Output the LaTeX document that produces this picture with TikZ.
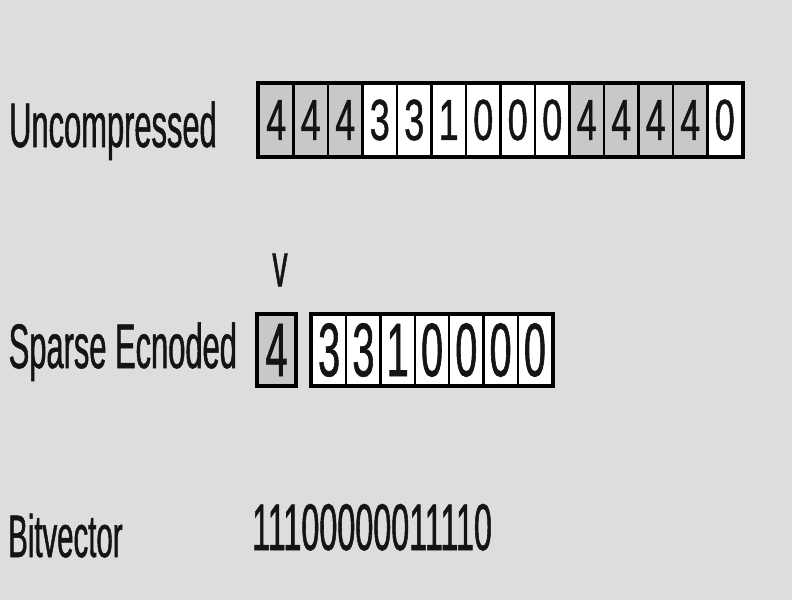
\documentclass[tikz,border=0pt]{standalone}
\usepackage{fontspec}
\setmainfont{Liberation Sans}
\newfontfamily\lblfont[FakeStretch=0.49,FakeBold=0.8]{Liberation Sans}
\newfontfamily\topfont[FakeStretch=0.62,FakeBold=0.8]{Liberation Sans}
\newfontfamily\midfont[FakeStretch=0.52,FakeBold=0.8]{Liberation Sans}
\definecolor{bg}{RGB}{221,221,221}
\definecolor{shade}{RGB}{200,200,200}
\definecolor{ink}{RGB}{20,20,20}
\begin{document}
\begin{tikzpicture}[x=1pt,y=-1pt,
  lbl/.style={anchor=base west, inner sep=0pt, text=ink, font=\lblfont\fontsize{63}{63}\selectfont},
  topcell/.style={draw=black, line width=2.2pt, minimum width=34.5pt, minimum height=72pt, inner sep=0pt, text=ink, font=\topfont\fontsize{58}{58}\selectfont},
  midcell/.style={draw=black, line width=2.2pt, minimum width=34.29pt, minimum height=70pt, inner sep=0pt, text=ink, font=\midfont\fontsize{76}{76}\selectfont},
  outer/.style={draw=black, line width=3pt}
]
\useasboundingbox (0,0) rectangle (792,600);
\fill[bg] (0,0) rectangle (792,600);

% labels
\node[lbl] (lu) at (9,147) {Uncompressed};
\node[lbl] (ls) at (8.5,368) {Sparse Ecnoded};
\node[lbl, font=\lblfont\fontsize{60}{60}\selectfont] (lb) at (8,557) {Bitvector};

% uncompressed row
\foreach \v/\f [count=\i from 0] in {4/shade,4/shade,4/shade,3/white,3/white,1/white,0/white,0/white,0/white,4/shade,4/shade,4/shade,4/shade,0/white}{
  \node[topcell, fill=\f] (u\i) at ({259+34.5*(\i+0.5)},120) {\v};
}
\draw[outer] (u0.north west) rectangle (u13.south east);

% sparse encoded
\node[midcell, fill=shade, minimum width=37pt] (m0) at (276.5,350) {4};
\draw[outer] (m0.north west) rectangle (m0.south east);
\node[lbl, anchor=center, font=\lblfont\fontsize{62}{62}\selectfont] (vm) at (280,270) {v};
\foreach \v [count=\k from 1] in {3,3,1,0,0,0,0}{
  \node[midcell, fill=white] (s\k) at ({312+34.29*(\k-0.5)},350) {\v};
}
\draw[outer] (s1.north west) rectangle (s7.south east);

% bitvector
\node[lbl, font=\lblfont\fontsize{66}{66}\selectfont] (bv) at (252,550) {11100000011110};
\end{tikzpicture}
\end{document}
